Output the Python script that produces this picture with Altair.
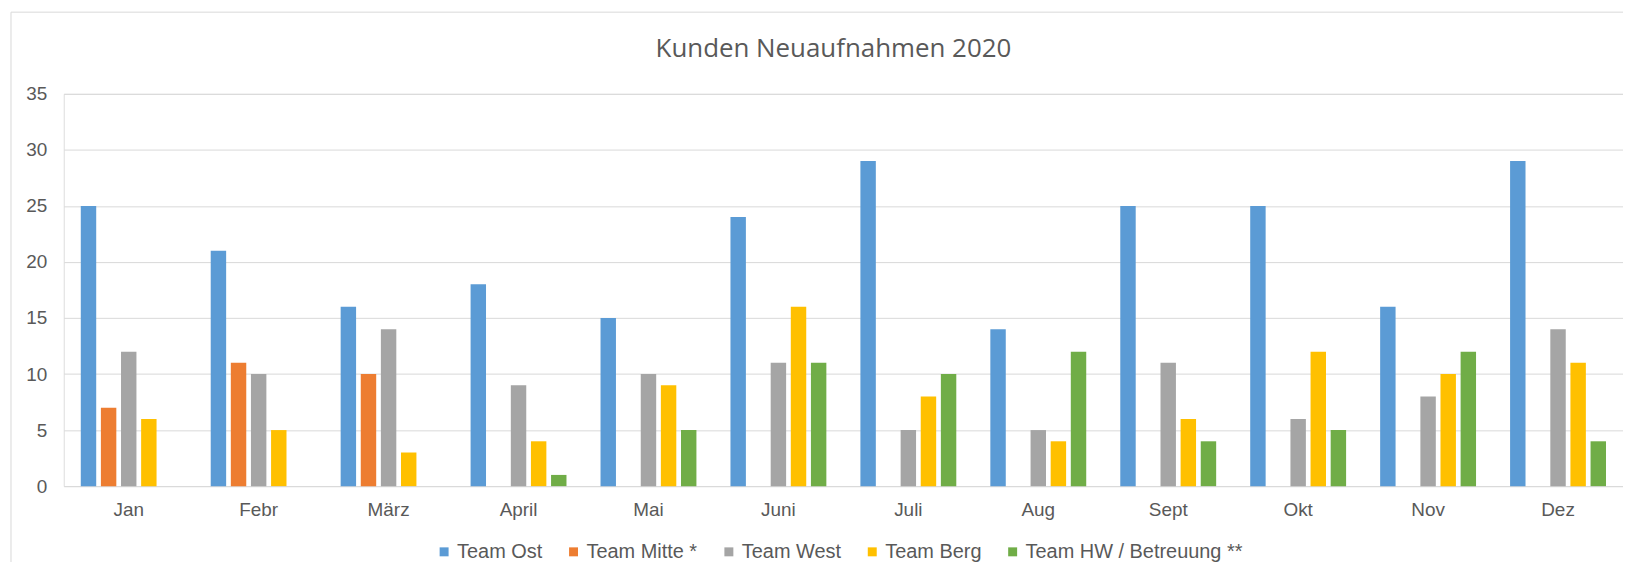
import altair as alt
import pandas as pd

months = ["Jan", "Febr", "März", "April", "Mai", "Juni", "Juli", "Aug", "Sept", "Okt", "Nov", "Dez"]
teams = ["Team Ost", "Team Mitte *", "Team West", "Team Berg", "Team HW / Betreuung **"]
team_colors = ["#5B9BD5", "#ED7D31", "#A5A5A5", "#FFC000", "#70AD47"]

team_ost = [25, 21, 16, 18, 15, 24, 29, 14, 25, 25, 16, 29]
team_mitte = [7, 11, 10, None, None, None, None, None, None, None, None, None]
team_west = [12, 10, 14, 9, 10, 11, 5, 5, 11, 6, 8, 14]
team_berg = [6, 5, 3, 4, 9, 16, 8, 4, 6, 12, 10, 11]
team_hw = [None, None, None, 1, 5, 11, 10, 12, 4, 5, 12, 4]

y_ticks = [0, 5, 10, 15, 20, 25, 30, 35]
chart_title = "Kunden Neuaufnahmen 2020"

series = [team_ost, team_mitte, team_west, team_berg, team_hw]
rows = []
for team, vals in zip(teams, series):
    for m, v in zip(months, vals):
        rows.append({"Monat": m, "Team": team, "Wert": v})
df = pd.DataFrame(rows)

FONT = "Liberation Sans"
GREY = "#595959"

bars = alt.Chart(df).mark_bar(clip=False).encode(
    x=alt.X(
        "Monat:N",
        sort=months,
        scale=alt.Scale(domain=months, paddingInner=0.262, paddingOuter=0.131),
        axis=alt.Axis(
            title=None, labelAngle=0, domain=False, ticks=False, tickSize=0,
            labelPadding=14, labelFont=FONT, labelFontSize=19, labelColor=GREY,
            grid=False,
        ),
    ),
    xOffset=alt.XOffset(
        "Team:N", sort=teams,
        scale=alt.Scale(domain=teams, paddingInner=0.233, paddingOuter=0),
    ),
    y=alt.Y(
        "Wert:Q",
        scale=alt.Scale(domain=[0, 35], nice=False),
        axis=alt.Axis(
            title=None, values=y_ticks, domain=False, ticks=False, tickSize=0,
            labelPadding=17, labelFont=FONT, labelFontSize=19, labelColor=GREY,
            grid=True, gridColor="#D9D9D9", gridWidth=1,
        ),
    ),
    color=alt.Color(
        "Team:N", sort=teams,
        scale=alt.Scale(domain=teams, range=team_colors),
        legend=alt.Legend(
            title=None, orient="none", direction="horizontal",
            legendX=372, legendY=450, padding=0,
            symbolType="square", symbolSize=81, symbolStrokeWidth=0,
            labelFont=FONT, labelFontSize=20, labelColor=GREY,
            labelOffset=3, columnPadding=21, labelLimit=0,
        ),
    ),
)

border = alt.Chart(pd.DataFrame({"b": [0]})).mark_rect(
    fill="transparent", stroke="#D9D9D9", strokeWidth=1, clip=False
).encode(
    x=alt.value(-53), x2=alt.value(3000), y=alt.value(-82), y2=alt.value(2000)
)

title = alt.Chart(pd.DataFrame({"t": [chart_title]})).mark_text(
    font="Open Sans", fontSize=26, fontWeight=400, color=GREY,
    align="center", baseline="alphabetic", clip=False,
).encode(
    text="t:N", x=alt.value(773), y=alt.value(-37)
)

chart = alt.layer(border, bars, title).properties(
    width=1566,
    height=394,
    autosize="none",
    padding={"left": 56, "top": 85, "right": 0, "bottom": 75},
).configure_view(stroke=None).configure(background="white")

chart.save("out.html", embed_options={"renderer": "svg", "actions": False})
